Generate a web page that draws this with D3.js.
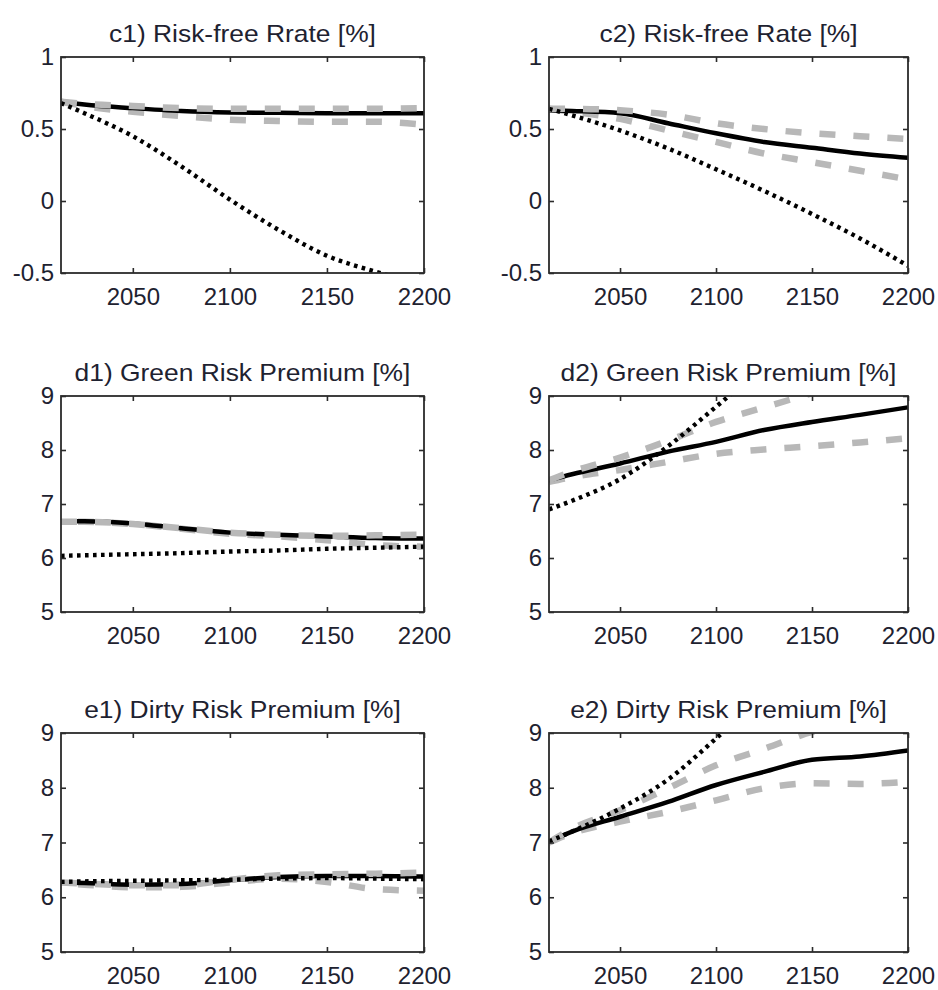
<!DOCTYPE html>
<html>
<head>
<meta charset="utf-8">
<script src="https://cdn.jsdelivr.net/npm/d3@7"></script>
<style>
  body { margin: 0; background: #fff; }
  svg { display: block; }
  text { font-family: "Liberation Sans", Arial, sans-serif; fill: #1e2230; }
</style>
</head>
<body>
<svg id="chart" width="938" height="990"></svg>
<script>
// Simulation years shared by every series
const years = [2013, 2025, 2050, 2075, 2100, 2125, 2150, 2175, 2200];

// c1) risk-free rate, first setting
const c1Solid  = [0.69, 0.67, 0.645, 0.625, 0.615, 0.612, 0.61, 0.61, 0.61];
const c1DashHi = [0.69, 0.675, 0.66, 0.645, 0.64, 0.64, 0.64, 0.64, 0.645];
const c1DashLo = [0.69, 0.66, 0.62, 0.59, 0.565, 0.555, 0.55, 0.55, 0.53];
const c1Dotted = [0.68, 0.61, 0.45, 0.24, 0.01, -0.2, -0.38, -0.49, -0.58];

// c2) risk-free rate, second setting
const c2Solid  = [0.63, 0.625, 0.61, 0.54, 0.47, 0.41, 0.37, 0.33, 0.30];
const c2DashHi = [0.64, 0.64, 0.63, 0.60, 0.54, 0.50, 0.47, 0.45, 0.43];
const c2DashLo = [0.64, 0.62, 0.57, 0.49, 0.41, 0.33, 0.27, 0.21, 0.15];
const c2Dotted = [0.64, 0.595, 0.49, 0.365, 0.22, 0.07, -0.09, -0.26, -0.45];

// d1) green risk premium, first setting
const d1Solid  = [6.68, 6.68, 6.64, 6.55, 6.47, 6.43, 6.40, 6.37, 6.36];
const d1DashHi = [6.67, 6.67, 6.63, 6.55, 6.47, 6.43, 6.41, 6.42, 6.43];
const d1DashLo = [6.67, 6.67, 6.63, 6.54, 6.45, 6.40, 6.33, 6.24, 6.21];
const d1Dotted = [6.04, 6.05, 6.07, 6.09, 6.12, 6.14, 6.17, 6.19, 6.21];

// d2) green risk premium, second setting
const d2Solid  = [7.44, 7.55, 7.75, 7.97, 8.15, 8.37, 8.52, 8.65, 8.79];
const d2DashHi = [7.44, 7.60, 7.86, 8.17, 8.52, 8.79, 9.05, 9.30, 9.50];
const d2DashLo = [7.41, 7.50, 7.63, 7.78, 7.93, 8.01, 8.07, 8.14, 8.22];
const d2Dotted = [6.90, 7.06, 7.46, 8.07, 8.80, 9.55, 10.2, 10.7, 11.1];

// e1) dirty risk premium, first setting
const e1Solid  = [6.27, 6.26, 6.23, 6.24, 6.31, 6.37, 6.39, 6.39, 6.38];
const e1DashHi = [6.27, 6.25, 6.22, 6.22, 6.32, 6.40, 6.42, 6.43, 6.45];
const e1DashLo = [6.25, 6.23, 6.18, 6.19, 6.27, 6.34, 6.28, 6.15, 6.12];
const e1Dotted = [6.28, 6.29, 6.30, 6.31, 6.32, 6.34, 6.35, 6.34, 6.33];

// e2) dirty risk premium, second setting
const e2Solid  = [7.02, 7.20, 7.47, 7.74, 8.05, 8.29, 8.51, 8.57, 8.68];
const e2DashHi = [7.00, 7.25, 7.59, 7.99, 8.41, 8.71, 9.02, 9.20, 9.35];
const e2DashLo = [7.00, 7.17, 7.38, 7.56, 7.77, 7.99, 8.08, 8.07, 8.11];
const e2Dotted = [7.02, 7.20, 7.62, 8.15, 8.90, 9.70, 10.4, 11.0, 11.5];

// Axis ticks
const yearTicks = [2050, 2100, 2150, 2200];
const rateTicks = [-0.5, 0, 0.5, 1];
const premiumTicks = [5, 6, 7, 8, 9];

const titles = [
  "c1) Risk-free Rrate [%]", "c2) Risk-free Rate [%]",
  "d1) Green Risk Premium [%]", "d2) Green Risk Premium [%]",
  "e1) Dirty Risk Premium [%]", "e2) Dirty Risk Premium [%]"
];

const panels = [
  { title: titles[0], col: 0, row: 0, domain: [-0.5, 1], ticks: rateTicks, solid: c1Solid, hi: c1DashHi, lo: c1DashLo, dotted: c1Dotted },
  { title: titles[1], col: 1, row: 0, domain: [-0.5, 1], ticks: rateTicks, solid: c2Solid, hi: c2DashHi, lo: c2DashLo, dotted: c2Dotted },
  { title: titles[2], col: 0, row: 1, domain: [5, 9], ticks: premiumTicks, solid: d1Solid, hi: d1DashHi, lo: d1DashLo, dotted: d1Dotted, shiftLo: true },
  { title: titles[3], col: 1, row: 1, domain: [5, 9], ticks: premiumTicks, solid: d2Solid, hi: d2DashHi, lo: d2DashLo, dotted: d2Dotted },
  { title: titles[4], col: 0, row: 2, domain: [5, 9], ticks: premiumTicks, solid: e1Solid, hi: e1DashHi, lo: e1DashLo, dotted: e1Dotted, shiftLo: true },
  { title: titles[5], col: 1, row: 2, domain: [5, 9], ticks: premiumTicks, solid: e2Solid, hi: e2DashHi, lo: e2DashLo, dotted: e2Dotted }
];

// Grid of plot boxes
const cols = [{ x0: 61, x1: 424 }, { x0: 549, x1: 908 }];
const rows = [{ y0: 57, y1: 273 }, { y0: 396, y1: 612 }, { y0: 733, y1: 952 }];

const svg = d3.select("#chart");
const frameColor = "#2b2b2b";
const fontSize = 24;
const grey = "#b8b8b8";
const dashPattern = [16, 18];

panels.forEach((p, i) => {
  const c = cols[p.col], r = rows[p.row];
  const w = c.x1 - c.x0, h = r.y1 - r.y0;
  const g = svg.append("g").attr("transform", `translate(${c.x0},${r.y0})`);

  const x = d3.scaleLinear().domain([2013, 2200]).range([0, w]);
  const y = d3.scaleLinear().domain(p.domain).range([h, 0]);

  const clipId = "clip" + i;
  g.append("clipPath").attr("id", clipId)
    .append("rect").attr("width", w).attr("height", h);

  const line = d3.line()
    .x((d, k) => x(years[k]))
    .y(d => y(d))
    .curve(d3.curveMonotoneX);

  const plot = g.append("g").attr("clip-path", `url(#${clipId})`);

  const dashed = (s, offset) => plot.append("path").datum(s).attr("d", line)
    .attr("fill", "none").attr("stroke", grey)
    .attr("stroke-width", 6.5)
    .attr("stroke-dasharray", dashPattern.join(","))
    .attr("stroke-dashoffset", offset);

  // lower band line sits beneath the solid path, upper band line above it
  dashed(p.lo, p.shiftLo ? (dashPattern[0] + dashPattern[1]) / 2 : 0);

  plot.append("path").datum(p.solid).attr("d", line)
    .attr("fill", "none").attr("stroke", "#000").attr("stroke-width", 4.5);

  dashed(p.hi, 0);

  plot.append("path").datum(p.dotted).attr("d", line)
    .attr("fill", "none").attr("stroke", "#000")
    .attr("stroke-width", 4.4).attr("stroke-dasharray", "3.6,4.4");

  // Axes with inward ticks on all four sides
  const styleAxis = sel => {
    sel.select(".domain").remove();
    sel.selectAll(".tick line").attr("stroke", frameColor).attr("stroke-width", 1.6);
    sel.selectAll("text").attr("font-size", fontSize).attr("fill", "#1e2230");
    sel.attr("font-size", null).attr("font-family", null);
  };

  g.append("g").attr("transform", `translate(0,${h})`)
    .call(d3.axisBottom(x).tickValues(yearTicks).tickSize(-5).tickPadding(15).tickFormat(d3.format("d")))
    .call(styleAxis);
  g.append("g")
    .call(d3.axisTop(x).tickValues(yearTicks).tickSize(-5).tickFormat(""))
    .call(styleAxis);
  g.append("g")
    .call(d3.axisLeft(y).tickValues(p.ticks).tickSize(-5).tickPadding(7).tickFormat(d => String(d)))
    .call(styleAxis);
  g.append("g").attr("transform", `translate(${w},0)`)
    .call(d3.axisRight(y).tickValues(p.ticks).tickSize(-5).tickFormat(""))
    .call(styleAxis);

  g.append("rect").attr("width", w).attr("height", h)
    .attr("fill", "none").attr("stroke", frameColor).attr("stroke-width", 1.8);

  // Panel title, slightly widened
  g.append("text")
    .attr("transform", `translate(${w / 2},-15) scale(1.1,1)`)
    .attr("text-anchor", "middle")
    .attr("font-size", fontSize)
    .text(p.title);
});
</script>
</body>
</html>
